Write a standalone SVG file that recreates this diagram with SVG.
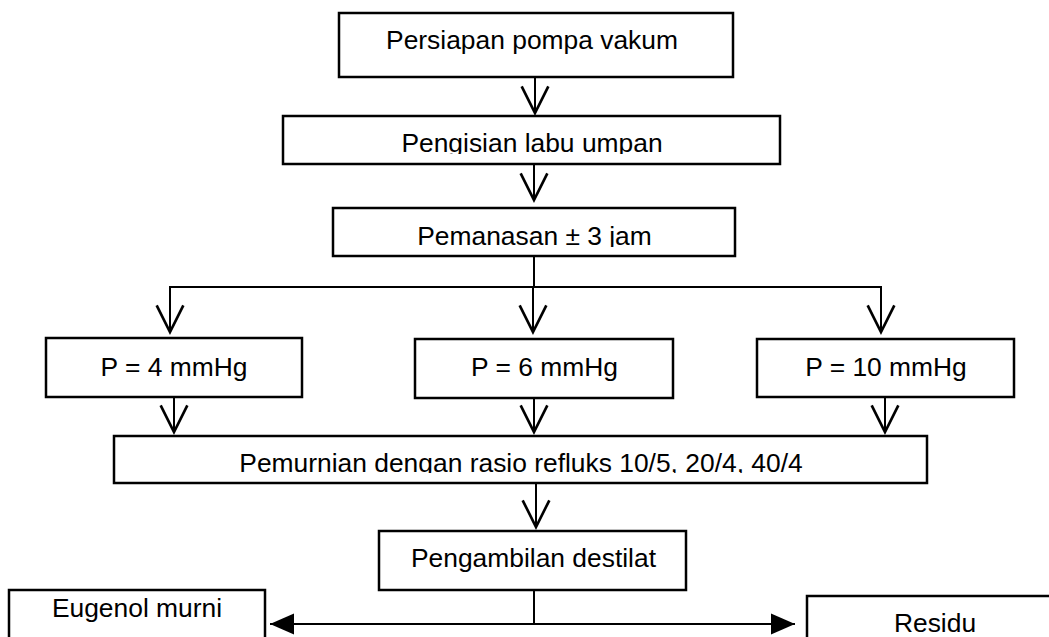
<svg xmlns="http://www.w3.org/2000/svg" width="1049" height="637" viewBox="0 0 1049 637">
<style>
.box{fill:#fff;stroke:#000;stroke-width:2.5}
.lbl{font-family:"Liberation Sans",Arial,sans-serif;font-size:26.4px;fill:#000;text-anchor:middle}
.con{fill:none;stroke:#000;stroke-width:2}
.open{marker-end:url(#vee)}
.both{marker-start:url(#tri);marker-end:url(#tri)}
</style>
<defs>
<marker id="vee" markerUnits="userSpaceOnUse" orient="auto" refX="0" refY="0" markerWidth="40" markerHeight="40" viewBox="-25 -15 30 30" overflow="visible">
<path d="M-20,-10 L0,0 L-20,10" fill="none" stroke="#000" stroke-width="2"/>
</marker>
<marker id="tri" markerUnits="userSpaceOnUse" orient="auto-start-reverse" refX="0" refY="0" markerWidth="40" markerHeight="40" viewBox="-20 -10 25 20" overflow="visible">
<path d="M-15,-6.5 L0,0 L-15,6.5 Z" fill="#000"/>
</marker>
<clipPath id="c2"><rect x="283" y="116" width="497" height="38"/></clipPath>
<clipPath id="c3"><rect x="333" y="208" width="402" height="39"/></clipPath>
<clipPath id="c7"><rect x="114" y="436" width="813" height="37"/></clipPath>
</defs>
<g id="connectors">
<line class="con open" x1="535" y1="77" x2="535" y2="113"/>
<line class="con open" x1="534" y1="164" x2="534" y2="200"/>
<line class="con" x1="534" y1="256" x2="534" y2="287"/>
<line class="con" x1="169" y1="287" x2="882" y2="287"/>
<line class="con open" x1="170" y1="287" x2="170" y2="332"/>
<line class="con open" x1="533" y1="287" x2="533" y2="332"/>
<line class="con open" x1="881" y1="287" x2="881" y2="332"/>
<line class="con open" x1="174" y1="397" x2="174" y2="432"/>
<line class="con open" x1="534" y1="398" x2="534" y2="432"/>
<line class="con open" x1="885" y1="397" x2="885" y2="432"/>
<line class="con open" x1="536" y1="483" x2="536" y2="527"/>
<line class="con" x1="534" y1="590" x2="534" y2="625"/>
<line class="con both" x1="270" y1="624" x2="795" y2="624"/>
</g>
<g id="n1"><rect class="box" x="339" y="13" width="394" height="64"/><text class="lbl" x="532" y="49">Persiapan pompa vakum</text></g>
<g id="n2"><rect class="box" x="283" y="116" width="497" height="48"/><text class="lbl" x="532" y="152" clip-path="url(#c2)">Pengisian labu umpan</text></g>
<g id="n3"><rect class="box" x="333" y="208" width="402" height="48"/><text class="lbl" x="534.5" y="245" clip-path="url(#c3)">Pemanasan ± 3 jam</text></g>
<g id="n4"><rect class="box" x="46" y="338" width="256" height="59"/><text class="lbl" x="174" y="376">P = 4 mmHg</text></g>
<g id="n5"><rect class="box" x="415" y="339" width="258" height="59"/><text class="lbl" x="544.5" y="376">P = 6 mmHg</text></g>
<g id="n6"><rect class="box" x="757" y="339" width="257" height="58"/><text class="lbl" x="886" y="376">P = 10 mmHg</text></g>
<g id="n7"><rect class="box" x="114" y="436" width="813" height="47"/><text class="lbl" x="521" y="472" clip-path="url(#c7)">Pemurnian dengan rasio refluks 10/5, 20/4, 40/4</text></g>
<g id="n8"><rect class="box" x="379" y="531" width="307" height="59"/><text class="lbl" x="533.5" y="567">Pengambilan destilat</text></g>
<g id="n9"><rect class="box" x="9" y="590" width="256" height="60"/><text class="lbl" x="137" y="617">Eugenol murni</text></g>
<g id="n10"><rect class="box" x="807" y="596" width="256" height="60"/><text class="lbl" x="935" y="632">Residu</text></g>
</svg>
